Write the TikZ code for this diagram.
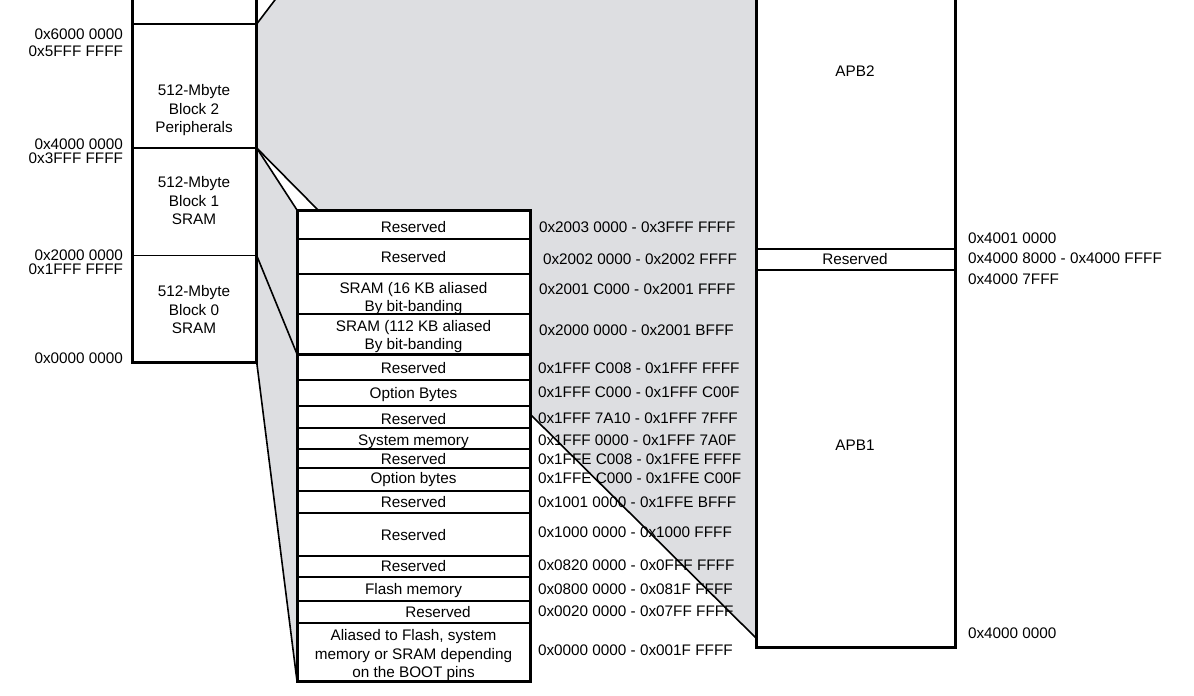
\documentclass[tikz,border=0pt]{standalone}
\usepackage{fontspec}
\setmainfont{Liberation Sans}
\usetikzlibrary{backgrounds}
\definecolor{graybg}{RGB}{221,222,225}
\newcommand{\dfont}{\fontsize{15.3}{18.3}\selectfont}
\begin{document}
\begin{tikzpicture}[x=1pt,y=-1pt,
  linkline/.style={line width=1.6pt},
  thickline/.style={line width=3pt, line join=miter},
  cell/.style={draw, line width=1.3pt, fill=white, inner sep=0pt, outer sep=0pt,
    anchor=north west},
  lcol/.style={cell, minimum width=124.2pt},
  tcell/.style={cell, minimum width=233pt},
  acell/.style={cell, minimum width=199pt},
  lbl/.style={inner sep=0pt, outer sep=0pt, font=\dfont, align=center},
  ctext/.style={lbl, anchor=base},
  addr/.style={lbl, anchor=west},
  laddr/.style={lbl, anchor=east},
  ]
\useasboundingbox (0,0) rectangle (1194,696);
\clip (0,0) rectangle (1194,696);

% left column
\node[lcol, minimum height=34pt] (blk3) at (132.5,-10) {};
\node[lcol, minimum height=124pt] (blk2) at (132.5,24) {};
\node[lcol, minimum height=107.5pt] (blk1) at (132.5,148) {};
\node[lcol, minimum height=106.5pt] (blk0) at (132.5,255.5) {};
\node[ctext] (blk2t) at (194,132.5) {512-Mbyte\\Block 2\\Peripherals};
\node[ctext] (blk1t) at (194,224.5) {512-Mbyte\\Block 1\\SRAM};
\node[ctext] (blk0t) at (194,333.5) {512-Mbyte\\Block 0\\SRAM};
\draw[thickline] (blk3.north west) -- (blk0.south west) -- (blk0.south east) -- (blk3.north east);

% table cells
\node[tcell, minimum height=29pt] (r1) at (297,210) {};
\node[tcell, minimum height=35pt] (r2) at (297,239) {};
\node[tcell, minimum height=40pt] (r3) at (297,274) {};
\node[tcell, minimum height=40pt] (r4) at (297,314) {};
\node[tcell, minimum height=26pt] (r5) at (297,354) {};
\node[tcell, minimum height=26pt] (r6) at (297,380) {};
\node[tcell, minimum height=22pt] (r7) at (297,406) {};
\node[tcell, minimum height=21pt] (r8) at (297,428) {};
\node[tcell, minimum height=19pt] (r9) at (297,449) {};
\node[tcell, minimum height=23pt] (r10) at (297,468) {};
\node[tcell, minimum height=22pt] (r11) at (297,491) {};
\node[tcell, minimum height=43pt] (r12) at (297,513) {};
\node[tcell, minimum height=21pt] (r13) at (297,556) {};
\node[tcell, minimum height=24pt] (r14) at (297,577) {};
\node[tcell, minimum height=22pt] (r15) at (297,601) {};
\node[tcell, minimum height=58pt] (r16) at (297,623) {};
\draw[thickline] (r1.north west) rectangle (r4.south east);
\draw[thickline] (r5.north west) rectangle (r16.south east);

% table texts
\node[ctext] (r1t) at (413.5,232) {Reserved};
\node[ctext] (r2t) at (413.5,262) {Reserved};
\node[ctext] (r3t) at (413.5,311.5) {SRAM (16 KB aliased\\By bit-banding};
\node[ctext] (r4t) at (413.5,349.5) {SRAM (112 KB aliased\\By bit-banding};
\node[ctext] (r5t) at (413.5,373.5) {Reserved};
\node[ctext] (r6t) at (413.5,398) {Option Bytes};
\node[ctext] (r7t) at (413.5,424.5) {Reserved};
\node[ctext] (r8t) at (413.5,445.5) {System memory};
\node[ctext] (r9t) at (413.5,464.5) {Reserved};
\node[ctext] (r10t) at (413.5,483.5) {Option bytes};
\node[ctext] (r11t) at (413.5,507.5) {Reserved};
\node[ctext] (r12t) at (413.5,540.5) {Reserved};
\node[ctext] (r13t) at (413.5,571) {Reserved};
\node[ctext] (r14t) at (413.5,594.5) {Flash memory};
\node[ctext] (r15t) at (438,617) {Reserved};
\node[ctext] (r16t) at (413.5,677.5) {Aliased to Flash, system\\memory or SRAM depending\\on the BOOT pins};

% APB column
\node[acell, minimum height=259pt] (apb2) at (756,-10) {};
\node[acell, minimum height=21pt] (apbr) at (756,249) {};
\node[acell, minimum height=377pt] (apb1) at (756,270) {};
\node[ctext] (apb2t) at (855,76.5) {APB2};
\node[ctext] (apbrt) at (855,264.5) {Reserved};
\node[ctext] (apb1t) at (855,450.5) {APB1};
\draw[thickline] (apb2.north west) -- (apb1.south west) -- (apb1.south east) -- (apb2.north east);

% coordinates
\coordinate (topend) at (282.5,-10);
\coordinate (tri) at (318,210);
\coordinate (diagstart) at (530,414);
\coordinate (diagend) at (756,638);

% shaded region
\begin{pgfonlayer}{background}
\fill[graybg] (blk3.south east) -- (topend) -- (apb2.north west) -- (diagend) -- (diagstart)
  -- (r16.south west) -- (blk0.south east) -- cycle;
\fill[white] (blk2.south east) -- (r1.north west) -- (tri) -- cycle;
\end{pgfonlayer}

% connectors
\draw[linkline] (blk3.south east) -- (topend);
\draw[linkline] (blk2.south east) -- (r1.north west);
\draw[linkline] (blk2.south east) -- (tri);
\draw[linkline] (blk0.north east) -- (r4.south west);
\draw[linkline] (blk0.south east) -- (r16.south west);
\draw[linkline] (diagstart) -- (diagend);

% left addresses
\node[laddr] (la1) at (123,34) {0x6000 0000};
\node[laddr] (la2) at (123,51.5) {0x5FFF FFFF};
\node[laddr] (la3) at (123,144) {0x4000 0000};
\node[laddr] (la4) at (123,158) {0x3FFF FFFF};
\node[laddr] (la5) at (123,255) {0x2000 0000};
\node[laddr] (la6) at (123,269.5) {0x1FFF FFFF};
\node[laddr] (la7) at (123,358) {0x0000 0000};

% table addresses
\node[addr] (a1) at (539,227) {0x2003 0000 - 0x3FFF FFFF};
\node[addr] (a2) at (543,259) {0x2002 0000 - 0x2002 FFFF};
\node[addr] (a3) at (539,289) {0x2001 C000 - 0x2001 FFFF};
\node[addr] (a4) at (539,330) {0x2000 0000 - 0x2001 BFFF};
\node[addr] (a5) at (538,368) {0x1FFF C008 - 0x1FFF FFFF};
\node[addr] (a6) at (538,392.5) {0x1FFF C000 - 0x1FFF C00F};
\node[addr] (a7) at (538,418.5) {0x1FFF 7A10 - 0x1FFF 7FFF};
\node[addr] (a8) at (538,440) {0x1FFF 0000 - 0x1FFF 7A0F};
\node[addr] (a9) at (538,459) {0x1FFE C008 - 0x1FFE FFFF};
\node[addr] (a10) at (538,478.5) {0x1FFE C000 - 0x1FFE C00F};
\node[addr] (a11) at (538,502.5) {0x1001 0000 - 0x1FFE BFFF};
\node[addr] (a12) at (538,532) {0x1000 0000 - 0x1000 FFFF};
\node[addr] (a13) at (538,565.5) {0x0820 0000 - 0x0FFF FFFF};
\node[addr] (a14) at (538,589) {0x0800 0000 - 0x081F FFFF};
\node[addr] (a15) at (538,611.5) {0x0020 0000 - 0x07FF FFFF};
\node[addr] (a16) at (538,650) {0x0000 0000 - 0x001F FFFF};

% right addresses
\node[addr] (ra1) at (968,238) {0x4001 0000};
\node[addr] (ra2) at (968,258.5) {0x4000 8000 - 0x4000 FFFF};
\node[addr] (ra3) at (968,279.5) {0x4000 7FFF};
\node[addr] (ra4) at (968,633.5) {0x4000 0000};
\end{tikzpicture}
\end{document}
